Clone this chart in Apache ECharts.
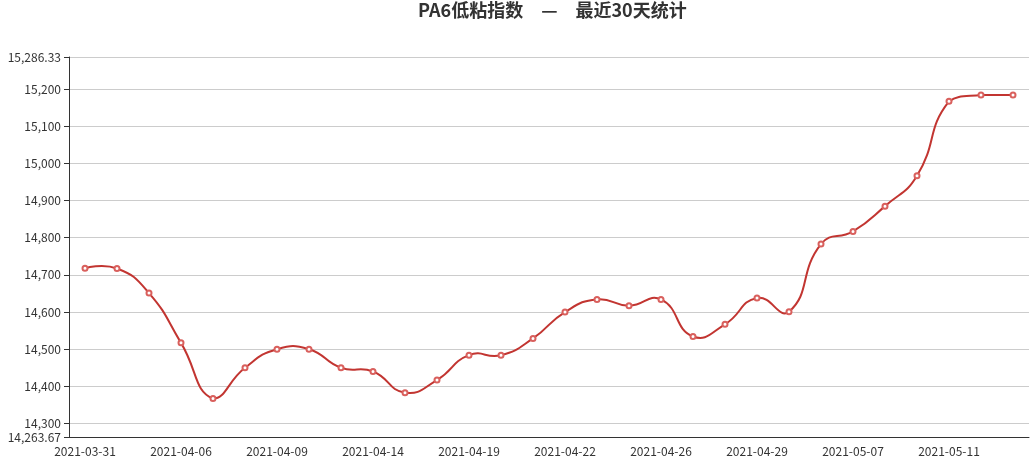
<!DOCTYPE html>
<html>
<head>
<meta charset="utf-8">
<script src="https://cdn.jsdelivr.net/npm/echarts@6/dist/echarts.min.js"></script>
<style>
html,body{margin:0;padding:0;background:#fff;}
#main{width:1034px;height:463px;}
</style>
</head>
<body>
<div id="main"></div>
<script>
const titleText = 'PA6低粘指数　—　最近30天统计';
const categories = [
  '2021-03-31','2021-04-01','2021-04-02','2021-04-06','2021-04-07','2021-04-08',
  '2021-04-09','2021-04-12','2021-04-13','2021-04-14','2021-04-15','2021-04-16',
  '2021-04-19','2021-04-20','2021-04-21','2021-04-22','2021-04-23','2021-04-25',
  '2021-04-26','2021-04-27','2021-04-28','2021-04-29','2021-04-30','2021-05-06',
  '2021-05-07','2021-05-08','2021-05-10','2021-05-11','2021-05-12','2021-05-13'
];
const values = [
  14718, 14717, 14651, 14517, 14367, 14450,
  14500, 14500, 14450, 14440, 14383, 14417,
  14484, 14484, 14529, 14600, 14634, 14617,
  14634, 14534, 14567, 14638, 14601, 14783,
  14817, 14885, 14967, 15167, 15184, 15184
];
const yMin = 14263.67;
const yMax = 15286.33;

const LINE_COLOR = '#c23531';
const SMOOTH = 0.5;

// Smooth curve segments (classic Catmull-Rom-like smoothing with overshoot)
function renderSegment(params, api) {
  const i = params.dataIndex;
  const n = values.length;
  if (i >= n - 1) return null;
  const pts = [];
  for (let k = 0; k < n; k++) pts.push(api.coord([k, values[k]]));
  let minX = Infinity, minY = Infinity, maxX = -Infinity, maxY = -Infinity;
  pts.forEach(function (p) {
    minX = Math.min(minX, p[0]); maxX = Math.max(maxX, p[0]);
    minY = Math.min(minY, p[1]); maxY = Math.max(maxY, p[1]);
  });
  const dist = function (a, b) { return Math.hypot(a[0] - b[0], a[1] - b[1]); };
  const a = pts[i], b = pts[i + 1];
  let cp0, cp1;
  if (i === 0) {
    cp0 = a.slice();
  } else {
    const prev = pts[i - 1];
    const vx = b[0] - prev[0], vy = b[1] - prev[1];
    const lp = dist(a, prev), ln = dist(b, a);
    const r = ln / (lp + ln);
    cp0 = [a[0] + vx * SMOOTH * r, a[1] + vy * SMOOTH * r];
  }
  if (i + 1 === n - 1) {
    cp1 = b.slice();
  } else {
    const next = pts[i + 2];
    const vx = next[0] - a[0], vy = next[1] - a[1];
    const lp = dist(b, a), ln = dist(next, b);
    const r = ln / (lp + ln);
    cp1 = [b[0] - vx * SMOOTH * (1 - r), b[1] - vy * SMOOTH * (1 - r)];
  }
  [cp0, cp1].forEach(function (c) {
    c[0] = Math.min(Math.max(c[0], minX), maxX);
    c[1] = Math.min(Math.max(c[1], minY), maxY);
  });
  return {
    type: 'bezierCurve',
    shape: {x1: a[0], y1: a[1], x2: b[0], y2: b[1], cpx1: cp0[0], cpy1: cp0[1], cpx2: cp1[0], cpy2: cp1[1]},
    style: {stroke: LINE_COLOR, lineWidth: 2, fill: null}
  };
}

const chart = echarts.init(document.getElementById('main'), null, {renderer: 'canvas'});
chart.setOption({
  animation: false,
  backgroundColor: '#fff',
  title: {
    text: titleText,
    left: 413,
    top: -4,
    textStyle: {fontSize: 18, fontWeight: 'bold', color: '#333', fontFamily: 'Noto Sans CJK SC'}
  },
  grid: {left: 69, right: 5, top: 57, bottom: 26},
  xAxis: {
    type: 'category',
    data: categories,
    boundaryGap: true,
    axisLine: {lineStyle: {color: '#333'}},
    axisTick: {interval: function (i) { return i % 3 === 2; }, lineStyle: {color: '#333'}},
    axisLabel: {interval: function (i) { return i % 3 === 0; }, color: '#333', fontSize: 12, fontFamily: 'Noto Sans CJK SC'}
  },
  yAxis: {
    type: 'value',
    min: yMin,
    max: yMax,
    splitNumber: 10,
    axisLine: {show: true, lineStyle: {color: '#333'}},
    axisTick: {show: true, lineStyle: {color: '#333'}},
    axisLabel: {color: '#333', fontSize: 12, fontFamily: 'Noto Sans CJK SC', showMinLabel: true, showMaxLabel: true},
    splitLine: {lineStyle: {color: '#ccc'}}
  },
  series: [{
    type: 'custom',
    renderItem: renderSegment,
    data: values.map(function (v, i) { return [i, v]; }),
    encode: {x: 0, y: 1},
    z: 2,
    silent: true
  }, {
    type: 'line',
    data: values,
    symbol: 'emptyCircle',
    symbolSize: 5,
    showAllSymbol: true,
    itemStyle: {color: '#d9605d', borderColor: '#d9605d', borderWidth: 1},
    lineStyle: {width: 0, opacity: 0},
    z: 3
  }]
});
</script>
</body>
</html>
